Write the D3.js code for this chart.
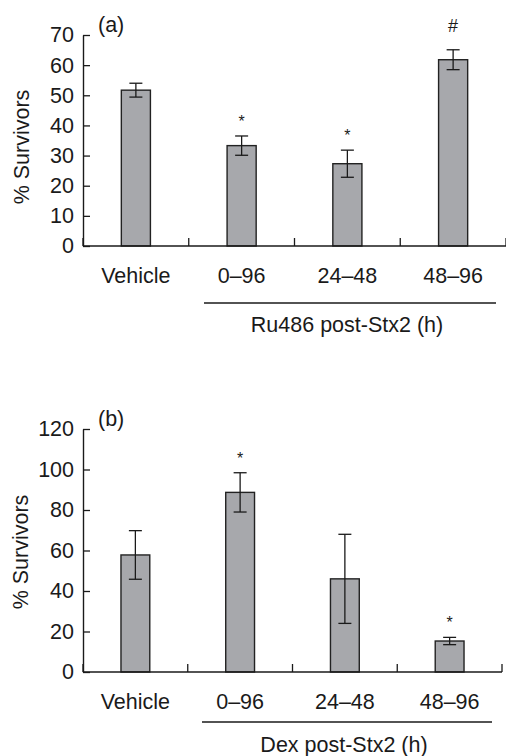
<!DOCTYPE html>
<html>
<head>
<meta charset="utf-8">
<script src="https://cdn.jsdelivr.net/npm/d3@7"></script>
<style>
  html, body { margin: 0; padding: 0; background: #fff; }
  svg { display: block; }
  text { font-family: "Liberation Sans", Arial, Helvetica, sans-serif; fill: #1a1a1a; }
</style>
</head>
<body>
<svg id="chart" width="506" height="756"></svg>
<script>
// ---- Data ----
const categories = ["Vehicle", "0–96", "24–48", "48–96"];

const ruMeans = [51.7, 33.3, 27.3, 61.8];
const ruErrors = [2.3, 3.2, 4.5, 3.3];
const ruMarks = ["", "*", "*", "#"];
const ruTicks = [0, 10, 20, 30, 40, 50, 60, 70];

const dexMeans = [57.8, 88.7, 46.0, 15.3];
const dexErrors = [12.0, 9.7, 22.0, 1.8];
const dexMarks = ["", "*", "", "*"];
const dexTicks = [0, 20, 40, 60, 80, 100, 120];

const panels = [
  { label: "(a)", group: "Ru486 post-Stx2 (h)", means: ruMeans, errors: ruErrors, marks: ruMarks, ticks: ruTicks,
    yMax: 70, y0: 246, y1: 35, x0: 83, x1: 506, labelTop: 32, yLabelX: 29, yLabelY: 147,
    bracket: [204, 496], bracketY: 303, groupY: 332 },
  { label: "(b)", group: "Dex post-Stx2 (h)", means: dexMeans, errors: dexErrors, marks: dexMarks, ticks: dexTicks,
    yMax: 120, y0: 672, y1: 429, x0: 83, x1: 502, labelTop: 426, yLabelX: 28, yLabelY: 552,
    bracket: [202, 492], bracketY: 722, groupY: 752 }
];

const svg = d3.select("#chart");
const ink = "#1a1a1a";
const fs = 21.5;

panels.forEach(p => {
  const g = svg.append("g");
  const x = d3.scaleBand().domain(categories).range([p.x0, p.x1]).padding(0);
  const y = d3.scaleLinear().domain([0, p.yMax]).range([p.y0, p.y1]);
  const barW = x.bandwidth() * 0.275;
  const capW = 13;

  // Y axis (ticks pointing inward)
  const yAxis = d3.axisLeft(y).tickValues(p.ticks).tickSizeInner(-7).tickSizeOuter(0).tickPadding(9).tickFormat(d3.format("d"));
  const ya = g.append("g").attr("transform", `translate(${p.x0},0)`).call(yAxis);
  ya.select(".domain").attr("stroke", ink).attr("stroke-width", 1.4);
  ya.selectAll(".tick line").attr("stroke", ink).attr("stroke-width", 1.3);
  ya.selectAll(".tick text").attr("font-size", fs).attr("fill", ink)
    .attr("font-family", "'Liberation Sans', Arial, sans-serif");

  // Bars
  g.selectAll("rect.bar").data(p.means).enter().append("rect")
    .attr("class", "bar")
    .attr("x", (d, i) => x(categories[i]) + x.bandwidth() / 2 - barW / 2)
    .attr("y", d => y(d))
    .attr("width", barW)
    .attr("height", d => y(0) - y(d))
    .attr("fill", "#a7a8ac")
    .attr("stroke", "#222")
    .attr("stroke-width", 1.4);

  // Error bars and significance marks
  p.means.forEach((m, i) => {
    const cx = x(categories[i]) + x.bandwidth() / 2;
    const e = p.errors[i];
    const eg = g.append("g").attr("stroke", ink).attr("stroke-width", 1.3);
    eg.append("line").attr("x1", cx).attr("x2", cx).attr("y1", y(m + e)).attr("y2", y(m - e));
    eg.append("line").attr("x1", cx - capW / 2).attr("x2", cx + capW / 2).attr("y1", y(m + e)).attr("y2", y(m + e));
    eg.append("line").attr("x1", cx - capW / 2).attr("x2", cx + capW / 2).attr("y1", y(m - e)).attr("y2", y(m - e));
    const mk = p.marks[i];
    if (mk) {
      const isStar = mk === "*";
      g.append("text")
        .attr("x", cx)
        .attr("y", y(m + e) - (isStar ? 9 : 18))
        .attr("text-anchor", "middle")
        .attr("font-size", isStar ? 16 : 18)
        .text(mk);
    }
  });

  // X axis line and category boundary ticks
  g.append("line").attr("x1", p.x0).attr("x2", p.x1).attr("y1", y(0)).attr("y2", y(0))
    .attr("stroke", ink).attr("stroke-width", 1.4);
  const bounds = categories.map(c => x(c)).concat([p.x1]);
  g.selectAll("line.xtick").data(bounds).enter().append("line")
    .attr("class", "xtick")
    .attr("x1", d => d).attr("x2", d => d)
    .attr("y1", y(0)).attr("y2", y(0) - 8)
    .attr("stroke", ink).attr("stroke-width", 1.3);

  // Category labels
  g.selectAll("text.cat").data(categories).enter().append("text")
    .attr("class", "cat")
    .attr("x", d => x(d) + x.bandwidth() / 2)
    .attr("y", y(0) + 37)
    .attr("text-anchor", "middle")
    .attr("font-size", fs)
    .text(d => d);

  // Group bracket
  g.append("line").attr("x1", p.bracket[0]).attr("x2", p.bracket[1]).attr("y1", p.bracketY).attr("y2", p.bracketY)
    .attr("stroke", ink).attr("stroke-width", 1.4);
  g.append("text")
    .attr("x", (p.bracket[0] + p.bracket[1]) / 2 - 3)
    .attr("y", p.groupY)
    .attr("text-anchor", "middle")
    .attr("font-size", fs)
    .text(p.group);

  // Panel label
  g.append("text").attr("x", 98).attr("y", p.labelTop).attr("font-size", fs).text(p.label);

  // Y axis title
  g.append("text")
    .attr("transform", `translate(${p.yLabelX},${p.yLabelY}) rotate(-90)`)
    .attr("text-anchor", "middle")
    .attr("font-size", fs)
    .text("% Survivors");
});
</script>
</body>
</html>
